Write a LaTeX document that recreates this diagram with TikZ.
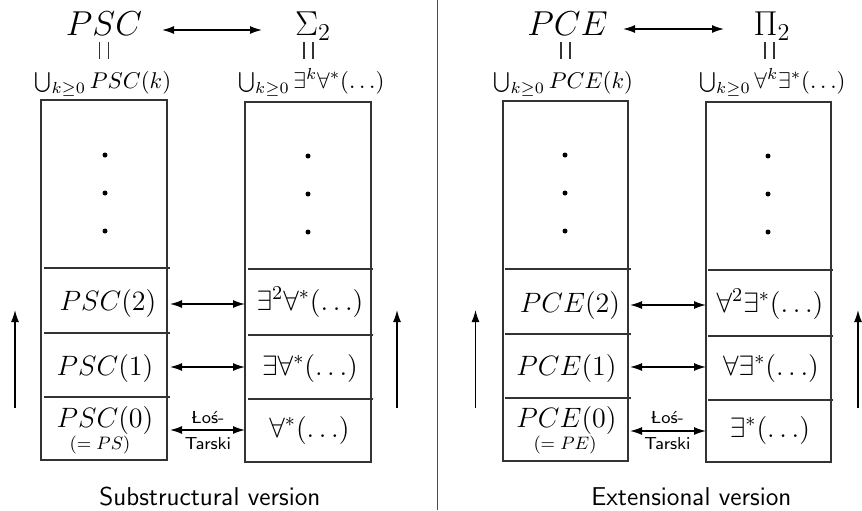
\RequirePackage{fix-cm}
\documentclass[tikz,border=0pt]{standalone}
\usetikzlibrary{arrows.meta}
\newcommand{\cmsans}{\fontencoding{OT1}\fontfamily{cmss}\fontseries{m}\fontshape{n}}
\begin{document}
\begin{tikzpicture}[x=0.5pt,y=-0.5pt,
  frame/.style={draw=black!80,line width=0.6pt},
  sep/.style={draw=black!80,line width=0.6pt},
  eqbar/.style={draw=black!80,line width=0.6pt},
  arr/.style={line width=0.7pt,{Latex[length=6pt,width=4pt]}-{Latex[length=6pt,width=4pt]}},
  uparr/.style={line width=0.7pt,-{Latex[length=6pt,width=4pt]}},
  txt/.style={anchor=base,inner sep=0pt},
  bigtxt/.style={txt,font=\fontsize{17.3}{20}\selectfont},
  midtxt/.style={txt,font=\fontsize{11.4}{14}\selectfont},
  celltxt/.style={txt,font=\fontsize{14}{16}\selectfont},
  smalltxt/.style={txt,font=\fontsize{9}{10}\selectfont},
  lt/.style={txt,font=\cmsans\fontsize{8.7}{10}\selectfont},
  captxt/.style={txt,font=\cmsans\fontsize{12.9}{15}\selectfont}]
\useasboundingbox (0,0) rectangle (862,510);

% divider
\draw[black!70,line width=0.6pt] (437.7,0) -- (437.7,510);

% ================= LEFT PANEL =================
\node[bigtxt] (psc) at (104,35) {$PSC$};
\node[bigtxt] (sig) at (313,35) {$\Sigma_2$};
\coordinate (ta1) at (162,30); \coordinate (ta2) at (262,30);
\draw[arr] (ta1) -- (ta2);
\draw[eqbar] (99.5,42) -- (99.5,59) (108.5,42) -- (108.5,59);
\draw[eqbar] (304,42) -- (304,59) (313,42) -- (313,59);
\node[midtxt] (pscu) at (103,88) {$\bigcup_{k\geq 0} PSC(k)$};
\node[midtxt] (sigu) at (311.5,88) {$\bigcup_{k\geq 0} \exists^k\forall^*(\ldots)$};

% boxes
\draw[frame] (41,100) rectangle (167,460);
\draw[sep] (44,268) -- (170,268) (44,333) -- (170,333) (44,397) -- (170,397);
\draw[frame] (245,102) rectangle (371,462);
\draw[sep] (248,269) -- (373,269) (248,335) -- (373,335) (248,399) -- (373,399);
\foreach \y in {155,193,231} {\fill (105,\y) circle (2.5); \fill (308,\y+1) circle (2.5);}

\node[celltxt] (p2) at (108,310) {$PSC(2)$};
\node[celltxt] (p1) at (105,375) {$PSC(1)$};
\node[celltxt] (p0) at (105,427) {$PSC(0)$};
\node[smalltxt] (ps) at (100,449) {$(=PS)$};
\node[celltxt] (s2) at (310,310) {$\exists^2\forall^*(\ldots)$};
\node[celltxt] (s1) at (310,375) {$\exists\forall^*(\ldots)$};
\node[celltxt] (s0) at (309.5,437) {$\forall^*(\ldots)$};

\coordinate (la2) at (170,304); \coordinate (ra2) at (245,304);
\coordinate (la1) at (170,367); \coordinate (ra1) at (245,367);
\coordinate (la0) at (170,430); \coordinate (ra0) at (245,430);
\draw[arr] (la2) -- (ra2);
\draw[arr] (la1) -- (ra1);
\draw[arr] (la0) -- (ra0);
\node[lt] (los) at (208,423) {\L o\'s-};
\node[lt] (tar) at (208,449) {Tarski};

\coordinate (ua1) at (15,408); \coordinate (ub1) at (15,310);
\coordinate (ua2) at (397,408); \coordinate (ub2) at (397,310);
\draw[uparr] (ua1) -- (ub1);
\draw[uparr] (ua2) -- (ub2);
\node[captxt] (capl) at (210,505) {Substructural version};

% ================= RIGHT PANEL =================
\node[bigtxt] (pce) at (567.5,35) {$PCE$};
\node[bigtxt] (pi) at (772,35) {$\Pi_2$};
\coordinate (tb1) at (623,29); \coordinate (tb2) at (724,29);
\draw[arr] (tb1) -- (tb2);
\draw[eqbar] (561,42) -- (561,59) (570,42) -- (570,59);
\draw[eqbar] (765,42) -- (765,59) (774,42) -- (774,59);
\node[midtxt] (pceu) at (563.5,88) {$\bigcup_{k\geq 0} PCE(k)$};
\node[midtxt] (piu) at (772.5,88) {$\bigcup_{k\geq 0} \forall^k\exists^*(\ldots)$};

\draw[frame] (503,101) rectangle (628,461);
\draw[sep] (505,269) -- (630.5,269) (505,334) -- (630.5,334) (505,398) -- (630.5,398);
\draw[frame] (706,102) rectangle (831,462);
\draw[sep] (708,270) -- (833,270) (708,336) -- (833,336) (708,400) -- (833,400);
\foreach \y in {155,193,231} {\fill (565,\y) circle (2.5); \fill (768,\y+1) circle (2.5);}

\node[celltxt] (q2) at (570,312) {$PCE(2)$};
\node[celltxt] (q1) at (566.5,375) {$PCE(1)$};
\node[celltxt] (q0) at (566.5,427) {$PCE(0)$};
\node[smalltxt] (pe) at (565,449) {$(=PE)$};
\node[celltxt] (t2) at (770,312) {$\forall^2\exists^*(\ldots)$};
\node[celltxt] (t1) at (771,375) {$\forall\exists^*(\ldots)$};
\node[celltxt] (t0) at (770,437) {$\exists^*(\ldots)$};

\coordinate (lb2) at (630,305); \coordinate (rb2) at (706,305);
\coordinate (lb1) at (630,367); \coordinate (rb1) at (706,367);
\coordinate (lb0) at (630,431); \coordinate (rb0) at (706,431);
\draw[arr] (lb2) -- (rb2);
\draw[arr] (lb1) -- (rb1);
\draw[arr] (lb0) -- (rb0);
\node[lt] (los2) at (667.5,423) {\L o\'s-};
\node[lt] (tar2) at (667.5,449) {Tarski};

\coordinate (va1) at (475.5,408); \coordinate (vb1) at (475.5,310);
\coordinate (va2) at (858,408); \coordinate (vb2) at (858,310);
\draw[uparr] (va1) -- (vb1);
\draw[uparr] (va2) -- (vb2);
\node[captxt] (capr) at (691.5,505) {Extensional version};
\end{tikzpicture}
\end{document}
